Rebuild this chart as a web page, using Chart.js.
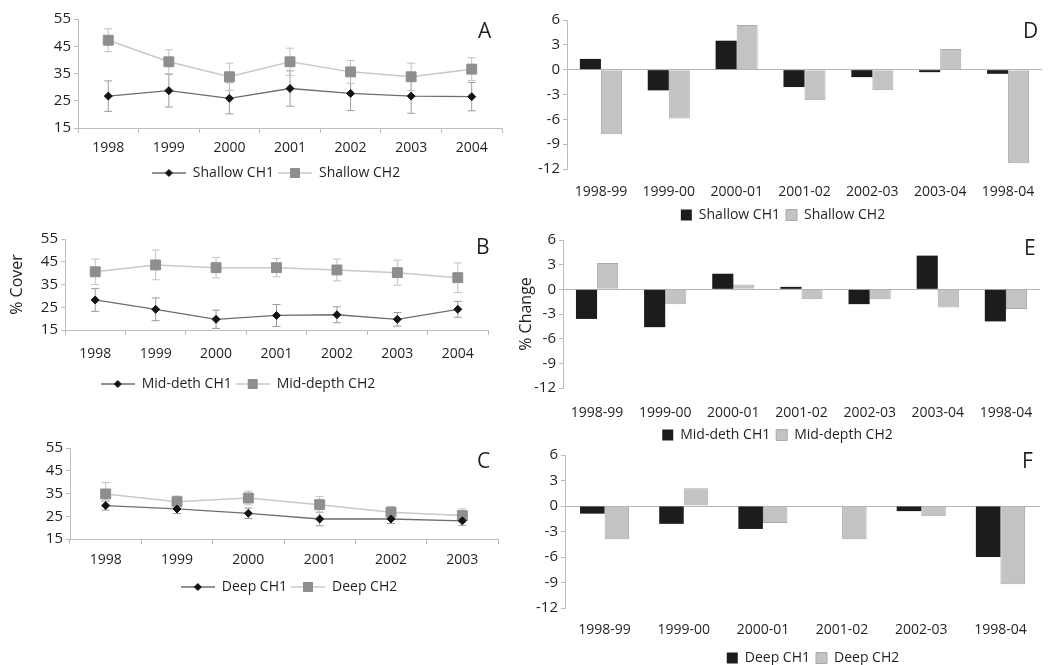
<!DOCTYPE html>
<html>
<head>
<meta charset="utf-8">
<script src="https://cdn.jsdelivr.net/npm/chart.js@4.4.0/dist/chart.umd.min.js"></script>
<style>
body { margin: 0; background: #fff; width: 1050px; height: 665px; position: relative; overflow: hidden; font-family: 'Open Sans', sans-serif; }
canvas { position: absolute; }
.tag { position: absolute; font-size: 21px; line-height: 21px; color: #231f20; }
</style>
</head>
<body>
<canvas id="cA" width="510" height="200" style="left:0;top:0"></canvas>
<canvas id="cB" width="500" height="180" style="left:0;top:222px"></canvas>
<canvas id="cC" width="506" height="180" style="left:0;top:430px"></canvas>
<canvas id="cD" width="530" height="235" style="left:520px;top:0"></canvas>
<canvas id="cE" width="535" height="235" style="left:515px;top:222px"></canvas>
<canvas id="cF" width="530" height="240" style="left:520px;top:440px"></canvas>
<div class="tag" style="left:478px;top:20px">A</div>
<div class="tag" style="left:476px;top:236px">B</div>
<div class="tag" style="left:477px;top:450px">C</div>
<div class="tag" style="left:1023px;top:20px">D</div>
<div class="tag" style="left:1024px;top:237px">E</div>
<div class="tag" style="left:1022px;top:450px">F</div>
<script>
'use strict';
// % cover by year
const years7 = ['1998', '1999', '2000', '2001', '2002', '2003', '2004'];
const years6 = ['1998', '1999', '2000', '2001', '2002', '2003'];
const shallowCH1 = [26.7, 28.7, 25.9, 29.5, 27.7, 26.7, 26.5];
const shallowCH1Err = [5.6, 6.0, 5.7, 6.5, 6.3, 6.3, 5.2];
const shallowCH2 = [47.2, 39.3, 33.8, 39.3, 35.6, 33.8, 36.6];
const shallowCH2Err = [4.2, 4.4, 5.0, 5.0, 4.2, 5.0, 4.2];
const midCH1 = [28.2, 24.1, 19.7, 21.4, 21.7, 19.7, 24.1];
const midCH1Err = [5.0, 5.0, 4.0, 4.8, 3.5, 3.0, 3.5];
const midCH2 = [40.6, 43.6, 42.4, 42.4, 41.4, 40.2, 38.0];
const midCH2Err = [5.6, 6.5, 4.5, 4.0, 4.8, 5.5, 6.5];
const deepCH1 = [29.7, 28.2, 26.3, 23.8, 23.8, 23.0];
const deepCH1Err = [2.0, 2.0, 2.3, 3.0, 2.0, 2.0];
const deepCH2 = [34.8, 31.4, 33.0, 30.1, 26.8, 25.3];
const deepCH2Err = [5.0, 2.5, 3.0, 3.5, 2.5, 3.0];

// % change by period
const periods7 = ['1998-99', '1999-00', '2000-01', '2001-02', '2002-03', '2003-04', '1998-04'];
const periods6 = ['1998-99', '1999-00', '2000-01', '2001-02', '2002-03', '1998-04'];
const shallowChgCH1 = [1.3, -2.5, 3.5, -2.1, -0.9, -0.3, -0.5];
const shallowChgCH2 = [-7.8, -5.9, 5.4, -3.7, -2.5, 2.5, -11.3];
const midChgCH1 = [-3.6, -4.6, 1.9, 0.3, -1.8, 4.1, -3.9];
const midChgCH2 = [3.2, -1.8, 0.6, -1.2, -1.2, -2.2, -2.4];
const deepChgCH1 = [-0.9, -2.1, -2.7, 0, -0.6, -6.0];
const deepChgCH2 = [-3.9, 2.1, -2.0, -3.9, -1.2, -9.2];

const ink = '#231f20';
const axisGrey = '#bdbdbd';
Chart.defaults.font.family = "'Open Sans', sans-serif";
Chart.defaults.color = ink;

// vertical error bars, drawn through the y scale
const errorBars = {
    id: 'errorBars',
    beforeDatasetsDraw(chart) {
        let ctx = chart.ctx;
        let yScale = chart.scales.y;
        chart.data.datasets.forEach(function (ds, i) {
            if (!ds.errors) return;
            let meta = chart.getDatasetMeta(i);
            ctx.save();
            ctx.strokeStyle = ds.errorColor;
            ctx.lineWidth = 1;
            meta.data.forEach(function (pt, j) {
                let top = yScale.getPixelForValue(ds.data[j] + ds.errors[j]);
                let bot = yScale.getPixelForValue(ds.data[j] - ds.errors[j]);
                ctx.beginPath();
                ctx.moveTo(pt.x, top); ctx.lineTo(pt.x, bot);
                ctx.moveTo(pt.x - 4, top); ctx.lineTo(pt.x + 4, top);
                ctx.moveTo(pt.x - 4, bot); ctx.lineTo(pt.x + 4, bot);
                ctx.stroke();
            });
            ctx.restore();
        });
    }
};

// nudge the legend sideways (the original legends are not centred on the canvas)
const shiftLegend = {
    id: 'shiftLegend',
    afterLayout(chart, args, opts) {
        if (chart.legend && opts.dx) {
            chart.legend.left += opts.dx;
            chart.legend.right += opts.dx;
        }
    }
};

function lineIcon(lineColor, shape, fill) {
    let c = document.createElement('canvas');
    c.width = 34; c.height = 14;
    let g = c.getContext('2d');
    g.strokeStyle = lineColor;
    g.lineWidth = 1.3;
    g.beginPath(); g.moveTo(0, 7); g.lineTo(34, 7); g.stroke();
    g.fillStyle = fill;
    if (shape === 'diamond') {
        g.beginPath(); g.moveTo(17, 3); g.lineTo(21, 7); g.lineTo(17, 11); g.lineTo(13, 7); g.closePath(); g.fill();
    } else {
        g.fillRect(12, 2, 10, 10);
    }
    return c;
}

function coverChart(id, labels, names, ch1, ch1Err, ch2, ch2Err, box) {
    return new Chart(document.getElementById(id), {
        type: 'line',
        data: {
            labels: labels,
            datasets: [
                {
                    label: names[0], data: ch1, errors: ch1Err, errorColor: '#9c9c9c',
                    borderColor: '#6e6e6e', borderWidth: 1.3,
                    pointStyle: 'rectRot', pointRadius: 4, pointBorderWidth: 1,
                    pointBackgroundColor: '#141414', pointBorderColor: '#141414',
                    legendIcon: lineIcon('#6e6e6e', 'diamond', '#141414')
                },
                {
                    label: names[1], data: ch2, errors: ch2Err, errorColor: '#c2c2c2',
                    borderColor: '#c8c8c8', borderWidth: 1.5,
                    pointStyle: 'rect', pointRadius: 7, pointBorderWidth: 1,
                    pointBackgroundColor: '#8e8e8e', pointBorderColor: '#8e8e8e',
                    legendIcon: lineIcon('#c8c8c8', 'square', '#8e8e8e')
                }
            ]
        },
        options: {
            responsive: false, animation: false, events: [],
            layout: { padding: box.pad },
            plugins: {
                tooltip: { enabled: false },
                shiftLegend: { dx: box.legDx || 0 },
                legend: {
                    position: 'bottom',
                    labels: {
                        usePointStyle: true, pointStyleWidth: 34, padding: box.legPad,
                        font: { size: 14 },
                        generateLabels: function (chart) {
                            return chart.data.datasets.map(function (ds, i) {
                                return { text: ds.label, pointStyle: ds.legendIcon, fontColor: ink, datasetIndex: i, lineWidth: 0, strokeStyle: 'rgba(0,0,0,0)', fillStyle: 'rgba(0,0,0,0)' };
                            });
                        }
                    }
                }
            },
            scales: {
                x: {
                    offset: true,
                    grid: { offset: true, drawOnChartArea: false, tickLength: 5, color: axisGrey },
                    border: { color: axisGrey },
                    ticks: { font: { size: 14 }, padding: box.xPad, maxRotation: 0, autoSkip: false },
                    afterFit: function (s) { s.height = box.xH; }
                },
                y: {
                    min: 15, max: 55,
                    ticks: { stepSize: 10, font: { size: 15 }, padding: 3 },
                    grid: { drawOnChartArea: false, tickLength: 4, color: axisGrey },
                    border: { color: axisGrey },
                    title: { display: !!box.title, text: box.title || '', font: { size: 16 }, padding: { top: box.titlePad || 0, bottom: 0 } },
                    afterFit: function (s) { s.width = box.yW; }
                }
            }
        },
        plugins: [errorBars, shiftLegend]
    });
}

function changeChart(id, labels, names, ch1, ch2, box) {
    return new Chart(document.getElementById(id), {
        type: 'bar',
        data: {
            labels: labels,
            datasets: [
                { label: names[0], data: ch1, backgroundColor: '#1c1c1c', borderColor: '#1c1c1c', borderWidth: 0 },
                { label: names[1], data: ch2, backgroundColor: '#c3c3c3', borderColor: '#a9a9a9', borderWidth: 1 }
            ]
        },
        options: {
            responsive: false, animation: false, events: [],
            layout: { padding: box.pad },
            datasets: { bar: { categoryPercentage: 0.62, barPercentage: 1.0 } },
            plugins: {
                tooltip: { enabled: false },
                shiftLegend: { dx: box.legDx || 0 },
                legend: {
                    position: 'bottom',
                    labels: { boxWidth: 11, boxHeight: 11, padding: box.legPad, font: { size: 14 }, color: ink }
                }
            },
            scales: {
                x: {
                    grid: { display: false, drawTicks: false },
                    border: { display: false },
                    ticks: { font: { size: 14 }, padding: box.xPad, maxRotation: 0, autoSkip: false },
                    afterFit: function (s) { s.height = box.xH; }
                },
                y: {
                    min: -12, max: 6,
                    ticks: { stepSize: 3, font: { size: 15 }, padding: 3 },
                    grid: {
                        color: function (c) { return c.tick && c.tick.value === 0 ? '#b5b5b5' : 'rgba(0,0,0,0)'; },
                        tickColor: axisGrey, tickLength: 4
                    },
                    border: { color: axisGrey },
                    title: { display: !!box.title, text: box.title || '', font: { size: 16 }, padding: { top: box.titlePad || 0, bottom: 0 } },
                    afterFit: function (s) { s.width = box.yW; }
                }
            }
        },
        plugins: [shiftLegend]
    });
}

coverChart('cA', years7, ['Shallow CH1', 'Shallow CH2'], shallowCH1, shallowCH1Err, shallowCH2, shallowCH2Err,
    { pad: { left: 48, top: 19, right: 6, bottom: 10 }, yW: 30, xH: 34, xPad: 7, legPad: 4 });
coverChart('cB', years7, ['Mid-deth CH1', 'Mid-depth CH2'], midCH1, midCH1Err, midCH2, midCH2Err,
    { pad: { left: 0, top: 17, right: 12, bottom: 1 }, yW: 65, xH: 43, xPad: 11, legPad: 4, legDx: -6, title: '% Cover', titlePad: 8 });
coverChart('cC', years6, ['Deep CH1', 'Deep CH2'], deepCH1, deepCH1Err, deepCH2, deepCH2Err,
    { pad: { left: 36, top: 18, right: 6, bottom: 6 }, yW: 34, xH: 37, xPad: 8, legPad: 4, legDx: 21 });

changeChart('cD', periods7, ['Shallow CH1', 'Shallow CH2'], shallowChgCH1, shallowChgCH2,
    { pad: { left: 4, top: 20, right: 8, bottom: 3 }, yW: 43, xH: 33, xPad: 15, legPad: 6 });
changeChart('cE', periods7, ['Mid-deth CH1', 'Mid-depth CH2'], midChgCH1, midChgCH2,
    { pad: { left: 0, top: 18, right: 10, bottom: 5 }, yW: 48, xH: 34, xPad: 17, legPad: 6, title: '% Change', titlePad: 2 });
changeChart('cF', periods6, ['Deep CH1', 'Deep CH2'], deepChgCH1, deepChgCH2,
    { pad: { left: 0, top: 15, right: 10, bottom: 5 }, yW: 45, xH: 37, xPad: 14, legPad: 6, legDx: 33 });
</script>
</body>
</html>
